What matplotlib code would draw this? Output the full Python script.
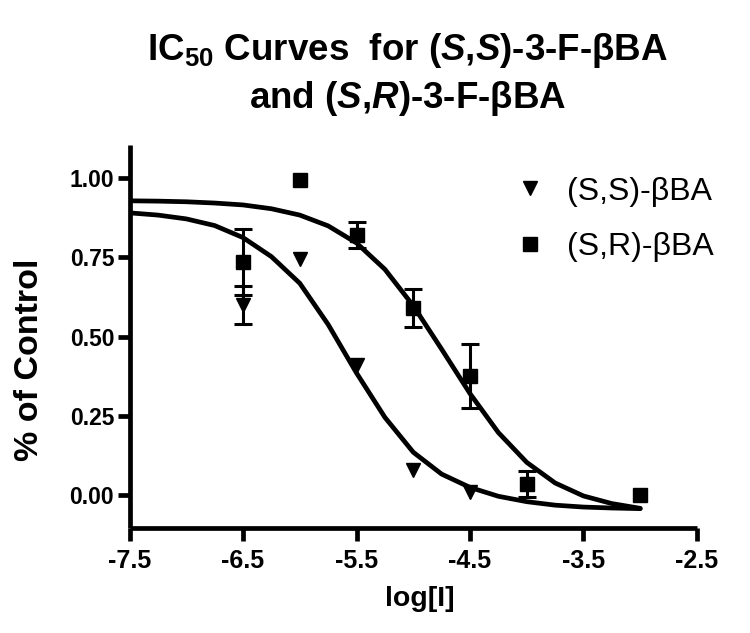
import matplotlib
matplotlib.use("Agg")
import matplotlib.pyplot as plt
import numpy as np

plt.rcParams['font.family'] = ['Liberation Sans', 'DejaVu Sans']
plt.rcParams['mathtext.fontset'] = 'custom'
plt.rcParams['mathtext.rm'] = 'Liberation Sans:bold'
plt.rcParams['mathtext.it'] = 'Liberation Sans:italic:bold'
plt.rcParams['mathtext.bf'] = 'Liberation Sans:bold'

# measured points
ss_x = [-6.5, -6.0, -5.5, -5.0, -4.5]
ss_y = [0.60, 0.745, 0.41, 0.08, 0.01]
ss_err = [0.06, 0, 0, 0, 0]

sr_x = [-6.5, -6.0, -5.5, -5.0, -4.5, -4.0, -3.0]
sr_y = [0.735, 0.995, 0.82, 0.59, 0.375, 0.035, 0.0]
sr_err = [0.105, 0, 0.04, 0.06, 0.10, 0.04, 0]

# fitted curves
curve_x = [-7.5, -7.25, -7.0, -6.75, -6.5, -6.25, -6.0, -5.75, -5.5, -5.25,
           -5.0, -4.75, -4.5, -4.25, -4.0, -3.75, -3.5, -3.25, -3.0]
ss_fit = [0.890, 0.883, 0.871, 0.850, 0.812, 0.752, 0.668, 0.538, 0.385, 0.245,
          0.135, 0.066, 0.024, -0.004, -0.021, -0.032, -0.038, -0.041, -0.043]
sr_fit = [0.928, 0.927, 0.925, 0.921, 0.915, 0.903, 0.883, 0.849, 0.795, 0.712,
          0.597, 0.460, 0.320, 0.197, 0.103, 0.038, -0.003, -0.027, -0.042]

xticks = [-7.5, -6.5, -5.5, -4.5, -3.5, -2.5]
yticks = [0.0, 0.25, 0.5, 0.75, 1.0]

fig = plt.figure(figsize=(7.5, 6.33), dpi=100)
ax = fig.add_axes([0.1727, 0.1654, 0.7566, 0.606])

lw = 3.4
ax.plot(curve_x, ss_fit, color='black', lw=lw, solid_capstyle='round', solid_joinstyle='round')
ax.plot(curve_x, sr_fit, color='black', lw=lw, solid_capstyle='round', solid_joinstyle='round')

ss_x, ss_y, ss_err = map(np.array, (ss_x, ss_y, ss_err))
sr_x, sr_y, sr_err = map(np.array, (sr_x, sr_y, sr_err))

m = ss_err > 0
ax.errorbar(ss_x[m], ss_y[m], yerr=ss_err[m], fmt='none', ecolor='black',
            elinewidth=2.2, capsize=6.5, capthick=2.2)
m = sr_err > 0
ax.errorbar(sr_x[m], sr_y[m], yerr=sr_err[m], fmt='none', ecolor='black',
            elinewidth=2.2, capsize=6.5, capthick=2.2)

ax.plot(ss_x, ss_y, 'v', color='black', ms=10, ls='none', label='(S,S)-βBA')
ax.plot(sr_x, sr_y, 's', color='black', ms=9.5, ls='none', label='(S,R)-βBA')

ax.set_xlim(-7.5, -2.5)
ax.set_ylim(-0.105, 1.105)
ax.set_xticks(xticks)
ax.set_xticklabels(['-7.5', '-6.5', '-5.5', '-4.5', '-3.5', '-2.5'])
ax.set_yticks(yticks)
ax.set_yticklabels(['0.00', '0.25', '0.50', '0.75', '1.00'])

for s in ['top', 'right']:
    ax.spines[s].set_visible(False)
for s in ['left', 'bottom']:
    ax.spines[s].set_linewidth(3.4)
    ax.spines[s].set_capstyle('butt')

ax.tick_params(axis='x', length=9, width=3.4, pad=6, labelsize=18)
ax.tick_params(axis='y', length=9, width=3.4, pad=2, labelsize=16.5)
for lab in ax.get_xticklabels() + ax.get_yticklabels():
    lab.set_fontweight('bold')

ax.set_xlabel('log[I]', fontsize=20.5, fontweight='bold')
ax.xaxis.set_label_coords(0.511, -0.15)
ax.set_ylabel('% of Control', fontsize=24.5, fontweight='bold')
ax.yaxis.set_label_coords(-0.149, 0.44)

ax.legend(loc='upper left', bbox_to_anchor=(0.684, 0.917), frameon=False,
          fontsize=23, handlelength=0.8, handletextpad=0.75, borderpad=0,
          borderaxespad=0, labelspacing=0.8)

fig.text(0.544, 0.905, r'IC$_{50}$ Curves  for ($\mathit{S}$,$\mathit{S}$)-3-F-βBA',
         ha='center', va='baseline', fontsize=26.5, fontweight='bold')
fig.text(0.544, 0.829, r'and ($\mathit{S}$,$\mathit{R}$)-3-F-βBA',
         ha='center', va='baseline', fontsize=26.5, fontweight='bold')

fig.savefig('out.png', dpi=100)
